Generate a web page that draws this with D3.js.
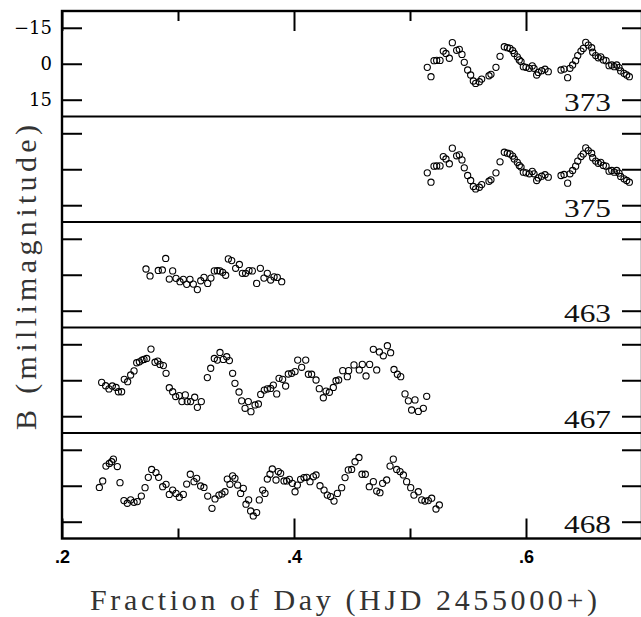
<!DOCTYPE html>
<html>
<head>
<meta charset="utf-8">
<script src="https://cdn.jsdelivr.net/npm/d3@7"></script>
<style>
  html, body { margin: 0; padding: 0; background: #fff; }
  svg { display: block; }
</style>
</head>
<body>
<svg id="chart" width="641" height="617"></svg>
<script>
// ---------------- DATA ----------------
const panelLabels = ["373", "375", "463", "467", "468"];
const yTickValues = [-15, 0, 15];
const xMajorTicks = [0.2, 0.4, 0.6];
const xMinorTicks = [0.3, 0.5];
const xTitle = "Fraction of Day (HJD 2455000+)";
const yTitle = "B (millimagnitude)";

const x373 = [0.5149,0.5181,0.5207,0.5230,0.5259,0.5287,0.5310,0.5339,0.5365,0.5402,0.5425,0.5448,0.5468,0.5497,0.5523,0.5546,0.5566,0.5598,0.5618,0.5681,0.5698,0.5741,0.5776,0.5813,0.5839,0.5862,0.5885,0.5899,0.5925,0.5942,0.5957,0.5977,0.6000,0.6029,0.6054,0.6069,0.6092,0.6106,0.6135,0.6164,0.6192,0.6302,0.6328,0.6359,0.6379,0.6402,0.6428,0.6446,0.6474,0.6494,0.6515,0.6537,0.6566,0.6575,0.6601,0.6623,0.6644,0.6667,0.6690,0.6716,0.6739,0.6761,0.6782,0.6802,0.6816,0.6845,0.6868,0.6891];
const y373 = [1.5,5.4,-1.3,-1.4,-1.4,-5.3,-4.3,-2.3,-8.8,-5.6,-6.0,-3.9,-0.6,2.6,4.7,7.2,8.2,7.5,6.4,5.0,4.4,1.5,-3.1,-7.1,-6.7,-6.4,-5.5,-4.3,-2.9,-1.6,-0.9,1.2,1.5,1.9,0.9,1.9,4.7,3.6,2.9,2.3,3.3,2.6,2.2,5.8,1.9,0.5,-1.3,-3.4,-5.3,-6.4,-8.9,-7.8,-6.7,-4.8,-3.4,-2.5,-2.9,-1.6,-1.3,0.8,0.5,1.2,0.5,1.6,3.0,4.0,4.7,5.4];

const x375 = [0.5149,0.5181,0.5207,0.5230,0.5259,0.5287,0.5310,0.5339,0.5365,0.5402,0.5425,0.5448,0.5468,0.5497,0.5523,0.5546,0.5566,0.5598,0.5618,0.5681,0.5698,0.5741,0.5776,0.5813,0.5839,0.5862,0.5885,0.5899,0.5925,0.5942,0.5957,0.5977,0.6000,0.6029,0.6054,0.6069,0.6092,0.6106,0.6135,0.6164,0.6192,0.6302,0.6328,0.6359,0.6379,0.6402,0.6428,0.6446,0.6474,0.6494,0.6515,0.6537,0.6566,0.6575,0.6601,0.6623,0.6644,0.6667,0.6690,0.6716,0.6739,0.6761,0.6782,0.6802,0.6816,0.6845,0.6868,0.6891];
const y375 = [1.5,5.4,-1.3,-1.4,-1.4,-5.3,-4.3,-2.3,-8.8,-5.6,-6.0,-3.9,-0.6,2.6,4.7,7.2,8.2,7.5,6.4,5.0,4.4,1.5,-3.1,-7.1,-6.7,-6.4,-5.5,-4.3,-2.9,-1.6,-0.9,1.2,1.5,1.9,0.9,1.9,4.7,3.6,2.9,2.3,3.3,2.6,2.2,5.8,1.9,0.5,-1.3,-3.4,-5.3,-6.4,-8.9,-7.8,-6.7,-4.8,-3.4,-2.5,-2.9,-1.6,-1.3,0.8,0.5,1.2,0.5,1.6,3.0,4.0,4.7,5.4];

const x463 = [0.2724,0.2759,0.2830,0.2865,0.2894,0.2954,0.2925,0.2983,0.3017,0.3046,0.3075,0.3103,0.3132,0.3167,0.3196,0.3224,0.3256,0.3284,0.3313,0.3339,0.3362,0.3385,0.3411,0.3434,0.3463,0.3497,0.3529,0.3555,0.3583,0.3612,0.3641,0.3678,0.3710,0.3741,0.3770,0.3799,0.3828,0.3856,0.3894];
const y463 = [-2.4,0.5,-1.8,-2.0,-6.8,-1.6,1.8,1.5,2.9,1.9,4.0,1.9,3.9,6.2,2.5,1.1,3.6,1.4,-1.6,-1.7,-1.6,-1.0,0.2,-6.6,-5.9,-2.7,-4.3,-0.6,-0.6,-1.7,-1.6,3.6,-2.7,1.4,-0.6,2.2,0.9,1.1,2.9];

const x467 = [0.2342,0.2376,0.2405,0.2434,0.2466,0.2486,0.2514,0.2537,0.2566,0.2592,0.2621,0.2644,0.2667,0.2690,0.2707,0.2730,0.2767,0.2802,0.2825,0.2845,0.2874,0.2897,0.2925,0.2954,0.2980,0.3011,0.3034,0.3063,0.3080,0.3109,0.3144,0.3167,0.3201,0.3253,0.3282,0.3313,0.3339,0.3362,0.3391,0.3420,0.3443,0.3471,0.3491,0.3526,0.3549,0.3578,0.3606,0.3629,0.3664,0.3693,0.3713,0.3744,0.3770,0.3799,0.3822,0.3851,0.3871,0.3902,0.3928,0.3951,0.3980,0.4009,0.4032,0.4066,0.4101,0.4124,0.4152,0.4190,0.4218,0.4253,0.4276,0.4305,0.4339,0.4362,0.4385,0.4420,0.4460,0.4471,0.4517,0.4563,0.4589,0.4621,0.4652,0.4684,0.4713,0.4736,0.4770,0.4805,0.4833,0.4862,0.4891,0.4920,0.4957,0.4986,0.5014,0.5043,0.5072,0.5115,0.5144];
const y467 = [0.9,2.3,3.6,2.4,3.0,4.8,4.8,-0.4,0.6,-2.2,-3.9,-7.3,-7.7,-8.4,-8.7,-9.1,-13.0,-7.5,-8.0,-6.6,-6.1,-2.9,3.1,4.8,6.8,6.4,8.9,6.1,8.9,8.9,7.1,11.3,8.9,-1.1,-5.0,-9.1,-8.4,-11.6,-8.7,-9.8,-8.2,-2.9,1.3,4.9,8.6,11.7,8.9,13.1,10.3,9.9,5.9,4.1,3.6,3.4,2.0,5.7,-0.8,-0.4,2.4,-2.6,-2.9,-3.6,-8.4,-5.4,-8.4,-2.5,-2.5,-0.1,3.5,7.3,4.5,5.0,3.0,0.2,-0.1,-4.0,-1.5,-4.0,-6.4,-4.3,-6.6,-1.8,-6.6,-12.9,-4.3,-11.8,-10.2,-14.4,-11.5,-4.5,-2.5,-1.5,5.7,8.6,12.4,8.2,13.0,11.7,6.7];

const x468 = [0.2322,0.2351,0.2379,0.2408,0.2428,0.2443,0.2477,0.2500,0.2534,0.2563,0.2592,0.2621,0.2649,0.2684,0.2716,0.2744,0.2773,0.2810,0.2833,0.2868,0.2897,0.2925,0.2954,0.2983,0.3011,0.3046,0.3075,0.3106,0.3138,0.3161,0.3195,0.3224,0.3256,0.3293,0.3319,0.3353,0.3379,0.3405,0.3425,0.3448,0.3471,0.3491,0.3514,0.3540,0.3563,0.3586,0.3609,0.3626,0.3649,0.3678,0.3701,0.3730,0.3750,0.3770,0.3793,0.3813,0.3845,0.3865,0.3885,0.3914,0.3937,0.3960,0.3986,0.4009,0.4029,0.4057,0.4086,0.4109,0.4138,0.4167,0.4190,0.4224,0.4259,0.4287,0.4316,0.4345,0.4374,0.4411,0.4440,0.4468,0.4497,0.4526,0.4560,0.4586,0.4615,0.4649,0.4684,0.4713,0.4741,0.4764,0.4799,0.4828,0.4856,0.4885,0.4914,0.4943,0.4971,0.5006,0.5034,0.5072,0.5101,0.5129,0.5158,0.5187,0.5224,0.5253];
const y468 = [0.7,-2.0,-8.2,-9.3,-10.0,-11.1,-8.0,-1.3,6.2,7.3,5.9,6.9,6.6,4.3,0.8,-3.5,-6.8,-5.5,-3.5,0.4,-0.6,3.6,1.8,3.2,4.8,3.6,-0.7,-4.8,-1.7,-3.1,0.1,0.7,4.3,9.4,5.5,3.9,3.4,2.5,-2.8,-0.6,-4.1,-3.1,-0.3,3.2,1.1,7.7,5.9,10.5,12.6,11.2,5.9,1.8,3.2,-2.8,-4.8,-7.0,-2.4,-5.9,-5.2,-2.0,-2.0,-2.7,-1.0,2.5,-0.3,-2.7,-3.4,-3.5,-1.7,-3.8,-4.5,0.0,1.8,3.9,4.5,6.4,3.2,0.8,-3.4,-6.6,-6.8,-10.0,-11.8,-4.8,-4.8,0.4,-1.7,2.2,2.9,-1.0,-2.4,-8.2,-11.1,-6.8,-5.9,-4.5,-1.7,0.8,3.9,2.5,5.9,6.4,6.2,5.2,9.7,8.0];

const seriesX = [x373, x375, x463, x467, x468];
const seriesY = [y373, y375, y463, y467, y468];

// ---------------- LAYOUT ----------------
const svg = d3.select("#chart");
const mL = 62, mR = 642, mT = 11, panelH = 105.5;
const nP = panelLabels.length;
const mB = mT + nP * panelH;
const ink = "#000";
const serif = "'Liberation Serif', 'DejaVu Serif', serif";

const x = d3.scaleLinear().domain([0.2, 0.7]).range([mL, mR]);

svg.append("rect").attr("width", 641).attr("height", 617).attr("fill", "#fff");

panelLabels.forEach((lab, i) => {
  const pTop = mT + i * panelH;
  const y = d3.scaleLinear().domain([-22, 22]).range([pTop, pTop + panelH]);
  const g = svg.append("g");

  const la = g.append("g").attr("transform", `translate(${mL},0)`)
    .call(d3.axisLeft(y).tickValues(yTickValues).tickSizeInner(-20).tickSizeOuter(0).tickPadding(10)
      .tickFormat(i === 0 ? d3.format("d") : () => ""));
  const ra = g.append("g").attr("transform", `translate(${mR},0)`)
    .call(d3.axisRight(y).tickValues(yTickValues).tickSizeInner(-20).tickSizeOuter(0).tickFormat(() => ""));
  [la, ra].forEach(a => {
    a.select(".domain").remove();
    a.selectAll(".tick line").attr("stroke", ink).attr("stroke-width", 2);
    a.selectAll(".tick text").attr("fill", ink)
      .style("font-family", "'DejaVu Serif', serif").style("font-size", "18px");
  });

  g.append("g").selectAll("circle")
    .data(seriesX[i].map((v, k) => [v, seriesY[i][k]]))
    .join("circle")
    .attr("cx", d => x(d[0]))
    .attr("cy", d => y(d[1]))
    .attr("r", 3.1)
    .attr("fill", "none")
    .attr("stroke", ink)
    .attr("stroke-width", 1.1);

  g.append("text")
    .attr("x", 564).attr("y", pTop + 100)
    .attr("textLength", 47).attr("lengthAdjust", "spacingAndGlyphs")
    .style("font-family", serif)
    .style("font-size", "26px")
    .attr("fill", "#111")
    .text(lab);

  if (i < nP - 1) {
    g.append("line")
      .attr("x1", mL).attr("x2", mR + 2)
      .attr("y1", pTop + panelH).attr("y2", pTop + panelH)
      .attr("stroke", ink).attr("stroke-width", 2);
  }
});

function xTicks(gen, yPos, vals, size, labels) {
  const a = svg.append("g").attr("transform", `translate(0,${yPos})`)
    .call(gen(x).tickValues(vals).tickSizeInner(-size).tickSizeOuter(0).tickPadding(12)
      .tickFormat(labels ? d => d3.format(".1f")(d).replace(/^0/, "") : () => ""));
  a.select(".domain").remove();
  a.selectAll(".tick line").attr("stroke", ink).attr("stroke-width", 2);
  a.selectAll(".tick text").attr("fill", ink)
    .style("font-family", "'Liberation Sans', sans-serif").style("font-size", "18px").style("font-weight", "bold");
  return a;
}
xTicks(d3.axisTop, mT, xMajorTicks, 20, false);
xTicks(d3.axisTop, mT, xMinorTicks, 10, false);
xTicks(d3.axisBottom, mB, xMajorTicks, 20, true);
xTicks(d3.axisBottom, mB, xMinorTicks, 10, false);

svg.append("rect")
  .attr("x", mL).attr("y", mT)
  .attr("width", mR - mL).attr("height", mB - mT)
  .attr("fill", "none").attr("stroke", ink).attr("stroke-width", 2.4);

svg.append("text")
  .attr("x", 90).attr("y", 610)
  .attr("textLength", 507).attr("lengthAdjust", "spacing")
  .style("font-family", serif)
  .style("font-size", "30px")
  .attr("fill", "#333")
  .text(xTitle);

svg.append("text")
  .attr("transform", `translate(36,430) rotate(-90)`)
  .attr("textLength", 305).attr("lengthAdjust", "spacing")
  .style("font-family", serif)
  .style("font-size", "30px")
  .attr("fill", "#333")
  .text(yTitle);
</script>
</body>
</html>
